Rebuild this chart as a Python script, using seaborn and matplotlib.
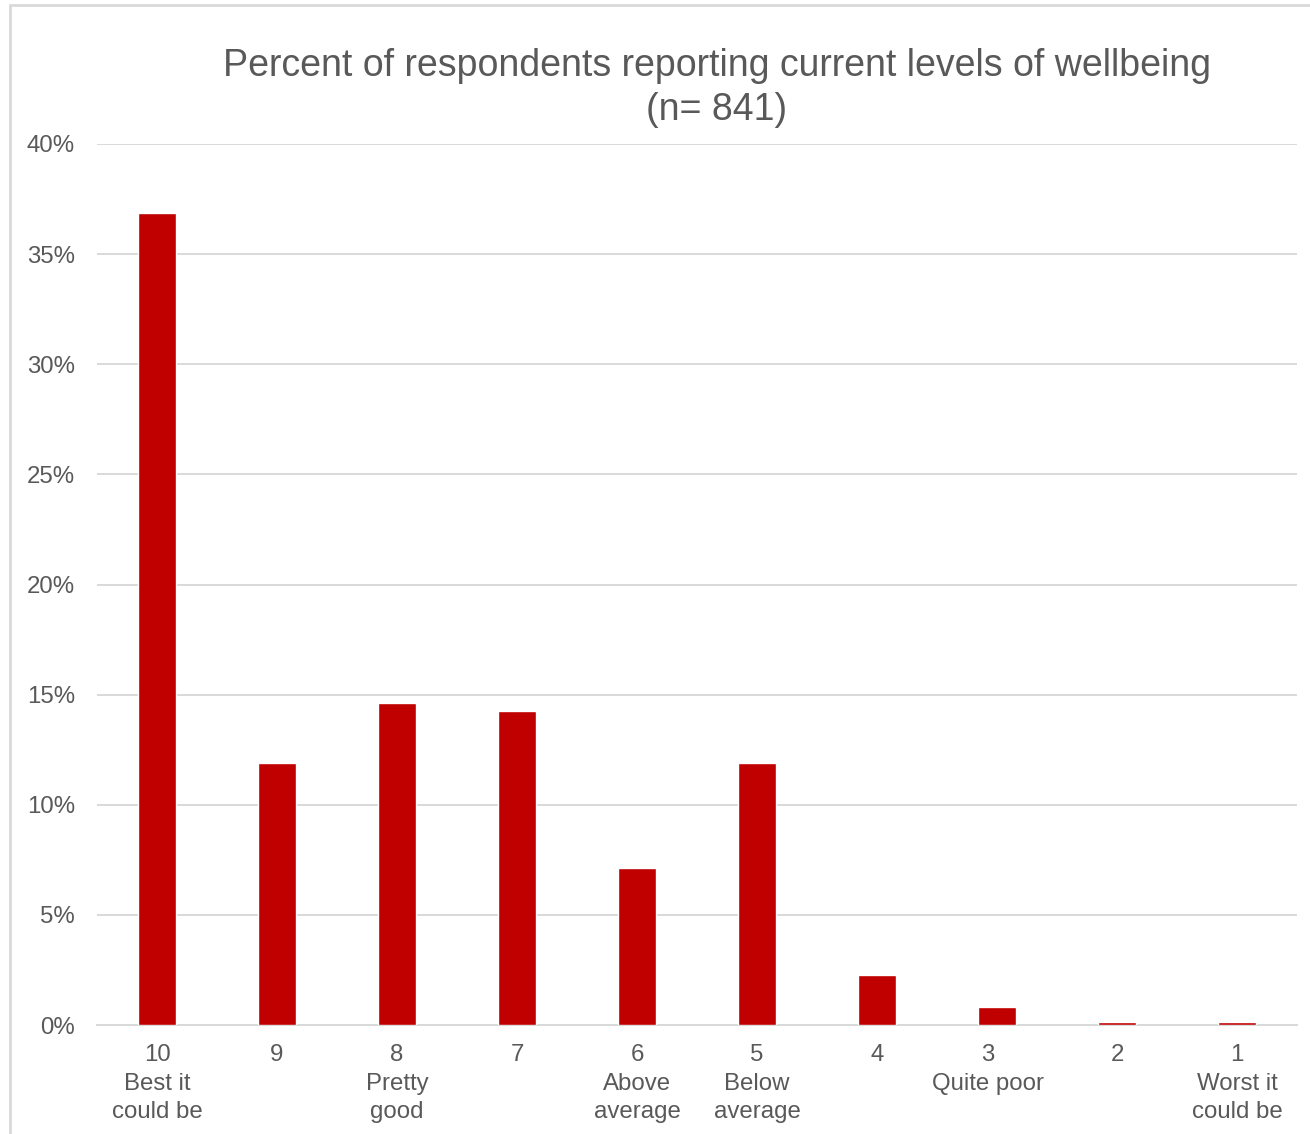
import matplotlib
matplotlib.use("Agg")
import matplotlib.pyplot as plt
import matplotlib.transforms as mtransforms
import seaborn as sns
import pandas as pd
from matplotlib.patches import Rectangle
from matplotlib.ticker import PercentFormatter

sns.set_theme(style="white")
plt.rcParams['font.family'] = ['Liberation Sans', 'DejaVu Sans']

scores = ["10", "9", "8", "7", "6", "5", "4", "3", "2", "1"]
descriptions = ["Best it\ncould be", "", "Pretty\ngood", "", "Above\naverage",
                "Below\naverage", "", "Quite poor", "", "Worst it\ncould be"]
percents = [36.86, 11.89, 14.63, 14.27, 7.13, 11.89, 2.26, 0.83, 0.12, 0.12]

labels = [s + ("\n" + d if d else "") for s, d in zip(scores, descriptions)]
df = pd.DataFrame({"label": labels, "pct": percents})

W, H = 1310, 1134
fig = plt.figure(figsize=(W / 100, H / 100), dpi=100)
ax = fig.add_axes([97 / W, 1 - 1025 / H, 1200 / W, (1025 - 144) / H])

sns.barplot(data=df, x="label", y="pct", order=labels, color="#C00000",
            saturation=1, width=0.32, ax=ax, zorder=3)

ax.set_ylim(0, 40)
ax.set_xlim(-0.5, len(labels) - 0.5)
ax.set_yticks(range(0, 41, 5))
ax.yaxis.set_major_formatter(PercentFormatter(decimals=0))
ax.grid(axis="y", color="#D9D9D9", linewidth=1.4, zorder=0)
ax.grid(axis="x", visible=False)
for s in ["top", "right", "left"]:
    ax.spines[s].set_visible(False)
ax.spines["bottom"].set_color("#D9D9D9")
ax.spines["bottom"].set_linewidth(1.4)
ax.set_xlabel("")
ax.set_ylabel("")
ax.tick_params(axis="both", length=0, colors="#595959", labelsize=17.3)
ax.tick_params(axis="x", pad=14)
ax.tick_params(axis="y", pad=16)
for t in ax.get_xticklabels():
    t.set_linespacing(1.38)
    t.set_color("#595959")
    if t.get_text().startswith("3"):
        t.set_transform(t.get_transform() + mtransforms.ScaledTranslation(-9 / 100, 0, fig.dpi_scale_trans))

fig.text(717 / W, 1 - 88 / H, "Percent of respondents reporting current levels of wellbeing\n(n= 841)",
         ha="center", va="center", fontsize=27, color="#595959", linespacing=1.25)

fig.patches.append(Rectangle((10 / W, -0.05), 1.2, 1 - 5 / H + 0.05, transform=fig.transFigure,
                             fill=False, edgecolor="#D9D9D9", linewidth=2, zorder=0))

fig.savefig("out.png", dpi=100, facecolor="white")
